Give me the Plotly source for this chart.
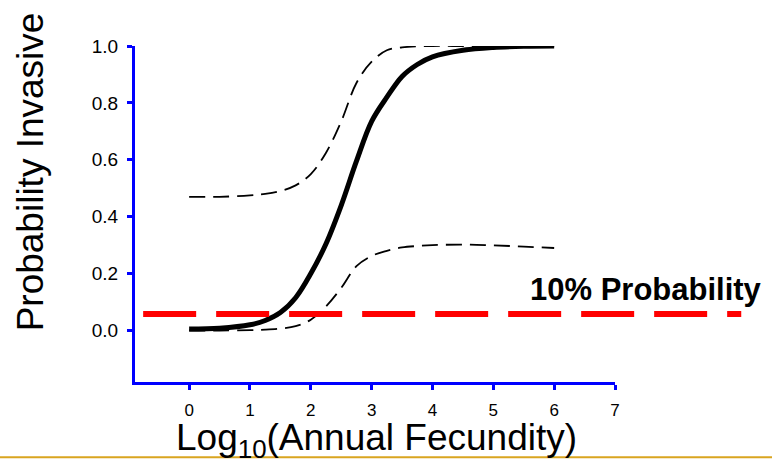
import plotly.graph_objects as go

# Data
x_vals = [0, 0.5, 1.0, 1.25, 1.5, 1.75, 2.0, 2.25, 2.5, 2.75, 3.0, 3.25, 3.5, 3.75, 4.0, 4.5, 5.0, 5.5, 6.0]
prob_mean = [0.005, 0.008, 0.02, 0.035, 0.063, 0.115, 0.2, 0.305, 0.44, 0.595, 0.735, 0.82, 0.893, 0.935, 0.962, 0.985, 0.995, 0.999, 1.0]
prob_upper = [0.47, 0.47, 0.475, 0.48, 0.49, 0.51, 0.55, 0.625, 0.735, 0.87, 0.945, 0.985, 0.995, 0.999, 1.0, 1.0, 1.0, 1.0, 1.0]
prob_lower = [0.0, 0.0, 0.001, 0.003, 0.007, 0.015, 0.038, 0.085, 0.15, 0.226, 0.262, 0.28, 0.292, 0.297, 0.3, 0.302, 0.299, 0.295, 0.29]
threshold = 0.058
threshold_label = "10% Probability"
x_ticks = [0, 1, 2, 3, 4, 5, 6, 7]
y_ticks = [0.0, 0.2, 0.4, 0.6, 0.8, 1.0]
y_tick_text = ["0.0", "0.2", "0.4", "0.6", "0.8", "1.0"]

FONT = "Arial, Liberation Sans, sans-serif"
BLUE = "#0000FF"

fig = go.Figure()
fig.add_trace(go.Scatter(x=x_vals, y=prob_upper, mode="lines", line=dict(color="black", width=1.8, dash="16px,8px", shape="spline"), showlegend=False))
fig.add_trace(go.Scatter(x=x_vals, y=prob_lower, mode="lines", line=dict(color="black", width=1.8, dash="16px,8px", shape="spline"), showlegend=False))
fig.add_trace(go.Scatter(x=x_vals, y=prob_mean, mode="lines", line=dict(color="black", width=5, shape="spline"), showlegend=False))

# red threshold line, extends beyond the plotting area
fig.add_shape(type="line", xref="paper", yref="y", x0=0.017, x1=1.263, y0=threshold, y1=threshold,
              line=dict(color="#FF0000", width=6, dash="53px,20px"), layer="above")
# gold rule at bottom of slide
fig.add_shape(type="line", xref="paper", yref="paper", x0=-0.3, x1=1.35, y0=-0.224, y1=-0.224,
              line=dict(color="#D9A520", width=2), layer="below")

fig.add_annotation(text="<b>" + threshold_label + "</b>", xref="paper", yref="paper", x=1.31, y=0.275,
                   xanchor="right", yanchor="middle", showarrow=False,
                   font=dict(family=FONT, size=31, color="black"))
fig.add_annotation(text="Probability Invasive", xref="paper", yref="paper", x=-0.218, y=0.625,
                   xanchor="center", yanchor="middle", textangle=-90, showarrow=False,
                   font=dict(family=FONT, size=37, color="black"))
fig.add_annotation(text="Log<sub>10</sub>(Annual Fecundity)", xref="paper", yref="paper", x=0.503, y=-0.172,
                   xanchor="center", yanchor="middle", showarrow=False,
                   font=dict(family=FONT, size=37, color="black"))

fig.update_layout(
    width=772, height=465,
    margin=dict(l=135, r=157, t=46, b=83),
    paper_bgcolor="white", plot_bgcolor="white",
    font=dict(family=FONT, color="black"),
    xaxis=dict(range=[-0.89, 7], tickvals=x_ticks, showgrid=False, zeroline=False, automargin=False,
               showline=True, linecolor=BLUE, linewidth=3, ticks="outside", tickcolor=BLUE,
               tickwidth=3, ticklen=5, tickfont=dict(size=17, family=FONT, color="black"),
               ticklabelstandoff=6),
    yaxis=dict(range=[-0.181, 1.0], tickvals=y_ticks, ticktext=y_tick_text, showgrid=False, zeroline=False,
               automargin=False,
               showline=True, linecolor=BLUE, linewidth=3, ticks="outside", tickcolor=BLUE,
               tickwidth=3, ticklen=5, tickfont=dict(size=19, family=FONT, color="black"),
               ticklabelstandoff=5),
)

fig.write_html("out.html", config={"displayModeBar": False},
               post_script="document.body.style.margin='0';document.body.style.overflow='hidden';")
